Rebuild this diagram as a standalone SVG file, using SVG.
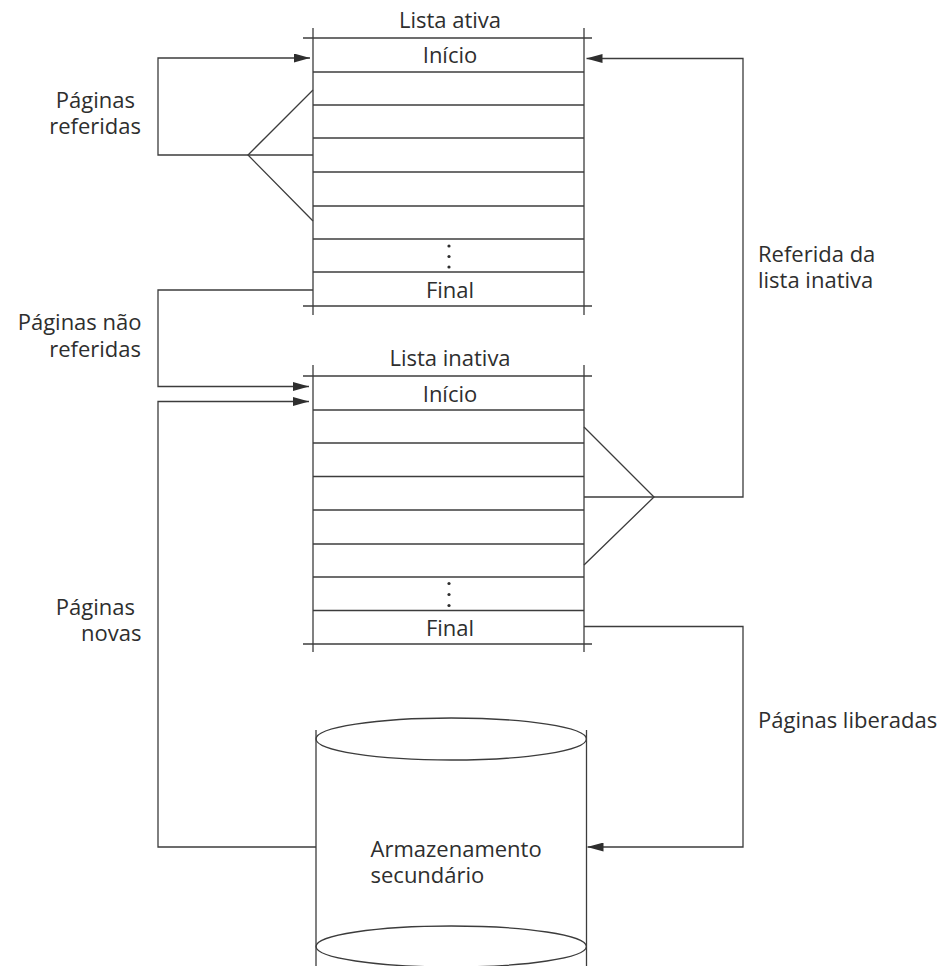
<svg xmlns="http://www.w3.org/2000/svg" width="941" height="966" viewBox="0 0 941 966">
  <style>
    .ln { fill: none; stroke: #3c3c3c; stroke-width: 1.3; }
    .cn { fill: none; stroke: #3c3c3c; stroke-width: 1.3; stroke-linejoin: miter; }
    .tx { font-family: "Open Sans", "Noto Sans", "Liberation Sans", sans-serif; font-size: 22px; fill: #2e2e2e; }
    .mid { text-anchor: middle; }
    .end { text-anchor: end; }
    .dot { fill: #2e2e2e; }
  </style>
  <defs>
    <marker id="arrow" viewBox="0 0 16 9" refX="16" refY="4.5" markerWidth="16" markerHeight="9" markerUnits="userSpaceOnUse" orient="auto">
      <path d="M0,0 L16,4.5 L0,9 z" fill="#2e2e2e"/>
    </marker>
  </defs>

  <rect width="941" height="966" fill="#ffffff"/>

  <!-- Active list -->
  <g id="active-list">
    <text class="tx mid" x="450" y="28">Lista ativa</text>
    <line class="ln" x1="313" y1="28" x2="313" y2="315"/>
    <line class="ln" x1="584" y1="28" x2="584" y2="315"/>
    <line class="ln" x1="303" y1="38" x2="592" y2="38"/>
    <line class="ln" x1="313" y1="72" x2="584" y2="72"/>
    <line class="ln" x1="313" y1="105" x2="584" y2="105"/>
    <line class="ln" x1="313" y1="138" x2="584" y2="138"/>
    <line class="ln" x1="313" y1="172" x2="584" y2="172"/>
    <line class="ln" x1="313" y1="206" x2="584" y2="206"/>
    <line class="ln" x1="313" y1="239" x2="584" y2="239"/>
    <line class="ln" x1="313" y1="272" x2="584" y2="272"/>
    <line class="ln" x1="303" y1="306" x2="592" y2="306"/>
    <text class="tx mid" x="450" y="63">Início</text>
    <circle class="dot" cx="449" cy="246" r="1.6"/>
    <circle class="dot" cx="449" cy="256.5" r="1.6"/>
    <circle class="dot" cx="449" cy="267" r="1.6"/>
    <text class="tx mid" x="450" y="298">Final</text>
  </g>

  <!-- Inactive list -->
  <g id="inactive-list">
    <text class="tx mid" x="450" y="366">Lista inativa</text>
    <line class="ln" x1="313" y1="365" x2="313" y2="652"/>
    <line class="ln" x1="584" y1="365" x2="584" y2="652"/>
    <line class="ln" x1="303" y1="376" x2="592" y2="376"/>
    <line class="ln" x1="313" y1="410" x2="584" y2="410"/>
    <line class="ln" x1="313" y1="443" x2="584" y2="443"/>
    <line class="ln" x1="313" y1="476.5" x2="584" y2="476.5"/>
    <line class="ln" x1="313" y1="510" x2="584" y2="510"/>
    <line class="ln" x1="313" y1="544" x2="584" y2="544"/>
    <line class="ln" x1="313" y1="577" x2="584" y2="577"/>
    <line class="ln" x1="313" y1="610.5" x2="584" y2="610.5"/>
    <line class="ln" x1="303" y1="644" x2="592" y2="644"/>
    <text class="tx mid" x="450" y="402">Início</text>
    <circle class="dot" cx="449" cy="583.5" r="1.6"/>
    <circle class="dot" cx="449" cy="594.5" r="1.6"/>
    <circle class="dot" cx="449" cy="605.5" r="1.6"/>
    <text class="tx mid" x="450" y="636">Final</text>
  </g>

  <!-- Secondary storage drum -->
  <g id="secondary-storage">
    <line class="ln" x1="316" y1="730" x2="316" y2="966"/>
    <line class="ln" x1="586.5" y1="730" x2="586.5" y2="966"/>
    <ellipse class="ln" cx="451.2" cy="739" rx="135.2" ry="21"/>
    <ellipse class="ln" cx="451.2" cy="946.5" rx="135.2" ry="20.5"/>
    <text class="tx" x="370.5" y="856.5">Armazenamento</text>
    <text class="tx" x="370.5" y="883">secundário</text>
  </g>

  <!-- Connectors -->
  <g id="connectors">
    <!-- referenced pages return to the head of the active list -->
    <polyline class="cn" points="313,90 248,155 313,221"/>
    <path class="cn" d="M313,155 H158 V58 H310" marker-end="url(#arrow)"/>
    <!-- tail of the active list moves to the inactive list -->
    <path class="cn" d="M313,290 H158 V386.5 H309" marker-end="url(#arrow)"/>
    <!-- new pages from secondary storage -->
    <path class="cn" d="M316,847 H158 V401.5 H309" marker-end="url(#arrow)"/>
    <!-- referenced inactive pages go back to the active list -->
    <polyline class="cn" points="584,427 654,497 584,565"/>
    <path class="cn" d="M584,497 H743 V58.5 H586.5" marker-end="url(#arrow)"/>
    <!-- freed pages go to secondary storage -->
    <path class="cn" d="M584,626.5 H743 V847 H587.5" marker-end="url(#arrow)"/>
  </g>

  <!-- Connector labels -->
  <g id="labels">
    <text class="tx end" x="135" y="108">Páginas</text>
    <text class="tx end" x="141" y="133.5">referidas</text>
    <text class="tx end" x="141.5" y="330">Páginas não</text>
    <text class="tx end" x="141" y="357">referidas</text>
    <text class="tx end" x="135" y="615">Páginas</text>
    <text class="tx end" x="141.5" y="641">novas</text>
    <text class="tx" x="758" y="262">Referida da</text>
    <text class="tx" x="758" y="288">lista inativa</text>
    <text class="tx" x="758" y="727.5">Páginas liberadas</text>
  </g>
</svg>
